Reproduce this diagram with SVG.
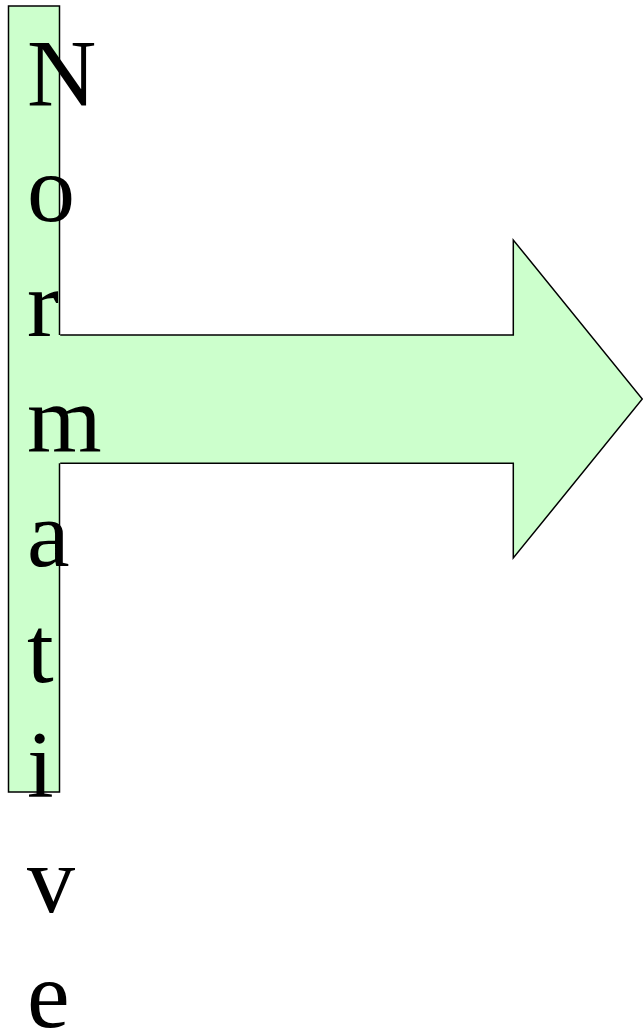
<svg xmlns="http://www.w3.org/2000/svg" width="643" height="1031" viewBox="0 0 643 1031">
<style>
.shape{fill:#CCFFCC;stroke:#000;stroke-width:1.5}
.fillonly{fill:#CCFFCC;stroke:none}
.edge{fill:none;stroke:#000;stroke-width:1.5;stroke-linejoin:miter}
.lbl{font-family:"Liberation Serif","Times New Roman",serif;font-size:96px;fill:#000}
</style>
<rect width="643" height="1031" fill="#fff"/>
<g id="bar">
<rect class="shape" x="8.5" y="6" width="51" height="786"/>
</g>
<g id="arrow">
<polygon class="fillonly" points="57.5,335 513.3,335 513.3,240 642.3,399 513.3,558 513.3,463.3 57.5,463.3"/>
<polyline class="edge" points="60.2,335 513.3,335 513.3,240 642.3,399 513.3,558 513.3,463.3 60.2,463.3"/>
</g>
<g id="label">
<text class="lbl" x="27" y="105.5">N</text>
<text class="lbl" x="27" y="220.7">o</text>
<text class="lbl" x="27" y="335.9">r</text>
<text class="lbl" x="27" y="451.1">m</text>
<text class="lbl" x="27" y="566.3">a</text>
<text class="lbl" x="27" y="681.5">t</text>
<text class="lbl" x="27" y="796.7">i</text>
<text class="lbl" x="27" y="911.9">v</text>
<text class="lbl" x="27" y="1027.1">e</text>
</g>
</svg>
